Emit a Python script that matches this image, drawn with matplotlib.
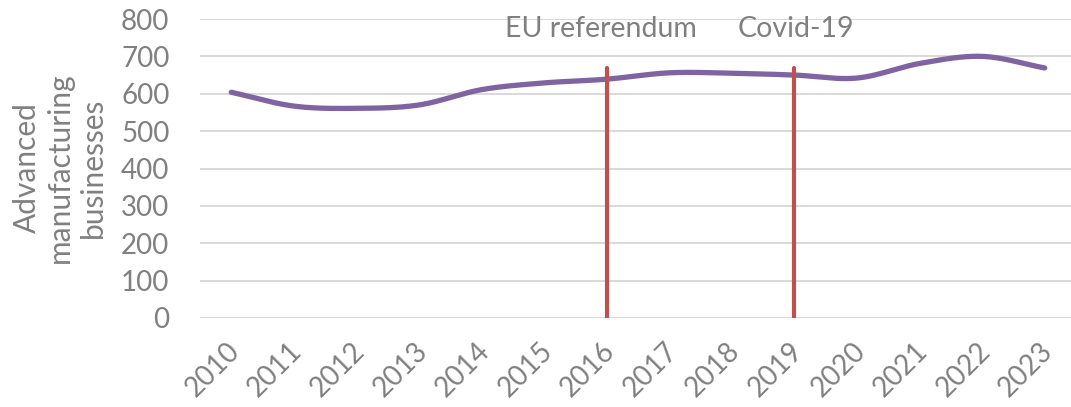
import numpy as np
import matplotlib
matplotlib.use("Agg")
import matplotlib.pyplot as plt
from matplotlib.transforms import ScaledTranslation

years = ["2010", "2011", "2012", "2013", "2014", "2015", "2016",
         "2017", "2018", "2019", "2020", "2021", "2022", "2023"]
businesses = [604, 567, 561, 570, 611, 629, 639, 656, 655, 650, 642, 681, 700, 669]
events = ["EU referendum", "Covid-19"]
event_years = ["2016", "2019"]
event_height = 670
yticks = [0, 100, 200, 300, 400, 500, 600, 700, 800]

GREY = "#808080"
PURPLE = "#8064A2"
RED = "#C0504D"
plt.rcParams['font.family'] = ['Lato', 'DejaVu Sans']

fig = plt.figure(figsize=(10.71, 4.07), dpi=100)
W, H = 1071, 407
ax = fig.add_axes([200 / W, 1 - 318 / H, 876 / W, (318 - 19) / H])

x = np.arange(len(years))
y = np.array(businesses, dtype=float)

# Catmull-Rom smoothing through the data points (Excel-like smoothed line)
def catmull_rom(xs, ys, n=30):
    px = np.concatenate([[2 * xs[0] - xs[1]], xs, [2 * xs[-1] - xs[-2]]])
    py = np.concatenate([[2 * ys[0] - ys[1]], ys, [2 * ys[-1] - ys[-2]]])
    ox, oy = [], []
    t = np.linspace(0, 1, n, endpoint=False)
    h00 = 2 * t**3 - 3 * t**2 + 1
    h10 = t**3 - 2 * t**2 + t
    h01 = -2 * t**3 + 3 * t**2
    h11 = t**3 - t**2
    for i in range(1, len(px) - 2):
        for p, o in ((px, ox), (py, oy)):
            p0, p1, p2, p3 = p[i - 1], p[i], p[i + 1], p[i + 2]
            m1 = (p2 - p0) / 2
            m2 = (p3 - p1) / 2
            o.extend(h00 * p1 + h10 * m1 + h01 * p2 + h11 * m2)
    ox.append(xs[-1]); oy.append(ys[-1])
    return np.array(ox), np.array(oy)

sx, sy = catmull_rom(x.astype(float), y)
ax.plot(sx, sy, color=PURPLE, lw=3.8, solid_capstyle='round', zorder=3)

for name, ey in zip(events, event_years):
    xi = years.index(ey)
    ax.plot([xi, xi], [0, event_height], color=RED, lw=3.0,
            solid_capstyle='round', zorder=4)
    ax.text(xi - 0.1 if name.startswith("EU") else xi + 0.03, 772, name,
            ha='center', va='center', color=GREY, fontsize=20.5)

ax.set_xlim(-0.5, len(years) - 0.5)
ax.set_ylim(0, 800)
ax.set_yticks(yticks)
ax.set_yticklabels([str(v) for v in yticks])
ax.set_xticks(x)
ax.set_xticklabels(years, rotation=45, ha='right', rotation_mode='anchor')
ax.tick_params(axis='both', length=0, labelsize=20, colors=GREY)
ax.tick_params(axis='y', pad=22)
ax.tick_params(axis='x', pad=14)
shift = ScaledTranslation(-5 / 100, 0, fig.dpi_scale_trans)
for lab in ax.get_xticklabels():
    lab.set_transform(lab.get_transform() + shift)
ax.grid(axis='y', color='#d9d9d9', lw=1.4)
ax.set_axisbelow(True)
for s in ax.spines.values():
    s.set_visible(False)

fig.text(60 / W, 1 - 168 / H, "Advanced\nmanufacturing\nbusinesses",
         rotation=90, ha='center', va='center', color=GREY, fontsize=21.5,
         linespacing=1.2, multialignment='center')

fig.savefig("out.png", dpi=100)
